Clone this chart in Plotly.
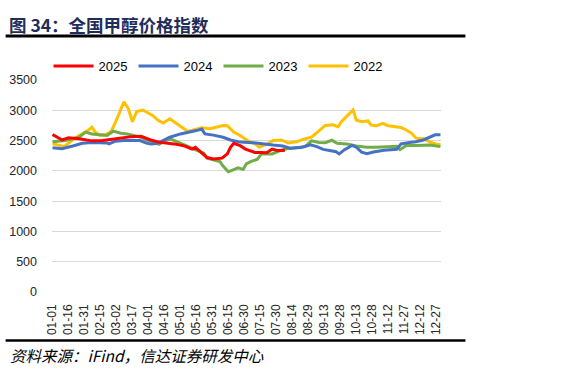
import plotly.graph_objects as go

# Tick labels (every 15th day of a 365-day year)
tick_days = list(range(0, 361, 15))
tick_labels = ["01-01", "01-16", "01-31", "02-15", "03-02", "03-17", "04-01", "04-16",
               "05-01", "05-16", "05-31", "06-15", "06-30", "07-15", "07-30", "08-14",
               "08-29", "09-13", "09-28", "10-13", "10-28", "11-12", "11-27", "12-12", "12-27"]

# 2025 (day-of-year index, value)
d2025 = [0, 4, 9, 15, 25, 37, 47, 56, 66, 74, 83, 92, 101, 114, 123, 131, 134, 139, 145, 151,
         159, 164, 167, 170, 176, 181, 185, 190, 196, 201, 206, 210, 215, 218]
v2025 = [2600, 2555, 2510, 2545, 2530, 2495, 2500, 2520, 2550, 2565, 2570, 2510, 2470, 2445,
         2415, 2360, 2390, 2305, 2220, 2195, 2210, 2280, 2390, 2455, 2415, 2360, 2335, 2305,
         2305, 2300, 2360, 2340, 2335, 2340]

# 2024
d2024 = [0, 9, 19, 28, 37, 45, 51, 53, 59, 67, 76, 82, 88, 92, 98, 104, 110, 120, 129, 135,
         140, 143, 151, 160, 167, 176, 188, 198, 207, 216, 223, 233, 242, 248, 254, 260, 266,
         269, 274, 281, 285, 290, 295, 301, 311, 323, 327, 335, 341, 348, 354, 359, 364]
v2024 = [2380, 2365, 2410, 2455, 2470, 2470, 2460, 2445, 2490, 2500, 2505, 2500, 2460, 2445,
         2450, 2500, 2555, 2610, 2640, 2665, 2690, 2610, 2590, 2555, 2510, 2475, 2465, 2440,
         2425, 2410, 2375, 2385, 2430, 2400, 2355, 2335, 2315, 2280, 2350, 2420, 2390, 2310,
         2285, 2310, 2340, 2355, 2445, 2470, 2480, 2510, 2555, 2595, 2595]

# 2023
d2023 = [0, 12, 25, 31, 37, 45, 51, 57, 64, 70, 76, 82, 89, 95, 100, 106, 111, 117, 123, 129,
         135, 142, 145, 151, 157, 160, 165, 170, 174, 179, 182, 187, 192, 196, 201, 206, 212,
         218, 228, 237, 243, 250, 256, 262, 267, 276, 285, 295, 304, 313, 323, 326, 332, 341,
         354, 364]
v2023 = [2480, 2500, 2555, 2640, 2610, 2600, 2585, 2655, 2620, 2610, 2590, 2560, 2510, 2480,
         2440, 2500, 2525, 2480, 2440, 2390, 2345, 2290, 2210, 2180, 2155, 2080, 1985, 2020,
         2050, 2025, 2120, 2160, 2190, 2280, 2285, 2280, 2320, 2360, 2380, 2400, 2495, 2470,
         2465, 2505, 2455, 2445, 2410, 2390, 2390, 2400, 2405, 2350, 2420, 2420, 2425, 2400]

# 2022
d2022 = [0, 11, 18, 25, 31, 37, 40, 44, 50, 55, 59, 63, 67, 71, 75, 79, 85, 90, 94, 99, 104,
         110, 116, 120, 127, 134, 140, 148, 154, 160, 164, 170, 176, 184, 190, 194, 202, 207,
         215, 221, 229, 235, 243, 250, 256, 263, 268, 271, 276, 282, 285, 290, 296, 299, 304,
         310, 315, 321, 327, 332, 337, 341, 348, 354, 360, 364]
v2022 = [2450, 2400, 2500, 2585, 2640, 2720, 2640, 2590, 2600, 2650, 2800, 2980, 3140, 3030,
         2810, 2980, 3005, 2950, 2915, 2835, 2790, 2860, 2780, 2735, 2650, 2680, 2710, 2695,
         2720, 2750, 2745, 2640, 2585, 2490, 2445, 2390, 2450, 2500, 2510, 2460, 2480, 2520,
         2555, 2665, 2750, 2760, 2730, 2810, 2895, 3005, 2840, 2810, 2825, 2755, 2745, 2785,
         2745, 2730, 2715, 2675, 2620, 2540, 2530, 2480, 2440, 2430]

series = [
    ("2025", d2025, v2025, "#FF0000"),
    ("2024", d2024, v2024, "#4472C4"),
    ("2023", d2023, v2023, "#70AD47"),
    ("2022", d2022, v2022, "#FFC000"),
]

fig = go.Figure()
# draw order: 2022 at back, 2025 on top; legend order kept 2025..2022
for i, (name, d, v, c) in enumerate(reversed(series)):
    fig.add_trace(go.Scatter(x=d, y=v, name=name, mode="lines",
                             line=dict(color=c, width=3), legendrank=10 - i))

font_main = "Liberation Sans, Arial, sans-serif"
cjk = "Noto Sans CJK SC, sans-serif"

W, H = 566, 373
L, R, T, B = 51.5, 441.5, 80, 292
pw, ph = R - L, B - T

def px(x):
    return (x - L) / pw

def py(y):
    return (B - y) / ph

fig.update_layout(
    width=W, height=H,
    margin=dict(l=L, r=W - R, t=T, b=H - B, pad=0, autoexpand=False),
    paper_bgcolor="white", plot_bgcolor="white",
    showlegend=True,
    legend=dict(orientation="h", x=px(48), y=py(66), xanchor="left", yanchor="middle",
                font=dict(family=font_main, size=13, color="#000000"),
                entrywidth=30, entrywidthmode="pixels", itemwidth=40,
                bgcolor="rgba(0,0,0,0)", traceorder="normal"),
    xaxis=dict(range=[-0.5, 364.5], tickmode="array", tickvals=tick_days, ticktext=tick_labels,
               tickangle=-90, showgrid=False, zeroline=False, showline=False, ticks="",
               tickfont=dict(family=font_main, size=12, color="#262626"),
               ticklabelstandoff=9),
    yaxis=dict(range=[0, 3500], tickvals=list(range(0, 3501, 500)), showgrid=True,
               gridcolor="#D9D9D9", gridwidth=1, zeroline=False, showline=False, ticks="",
               tickfont=dict(family=font_main, size=12.5, color="#262626"),
               ticklabelstandoff=14),
    shapes=[
        dict(type="line", xref="paper", yref="paper", x0=px(5), x1=px(466), y0=py(36), y1=py(36),
             line=dict(color="black", width=3)),
        dict(type="line", xref="paper", yref="paper", x0=px(5), x1=px(466), y0=py(340.5), y1=py(340.5),
             line=dict(color="black", width=2.5)),
    ],
    annotations=[
        dict(text="<b>图 34：全国甲醇价格指数</b>", xref="paper", yref="paper", x=px(6), y=py(25),
             xanchor="left", yanchor="middle", showarrow=False,
             font=dict(family=cjk, size=17.5, color="#1F2D5A")),
        dict(text="<i>资料来源：iFind，信达证券研发中心</i>", xref="paper", yref="paper",
             x=px(7), y=py(355), xanchor="left", yanchor="middle", showarrow=False,
             font=dict(family=cjk, size=15.5, color="#000000")),
    ],
)

fig.write_html("out.html", config={"displayModeBar": False},
               post_script="document.body.style.margin='0';document.body.style.overflow='hidden';")
